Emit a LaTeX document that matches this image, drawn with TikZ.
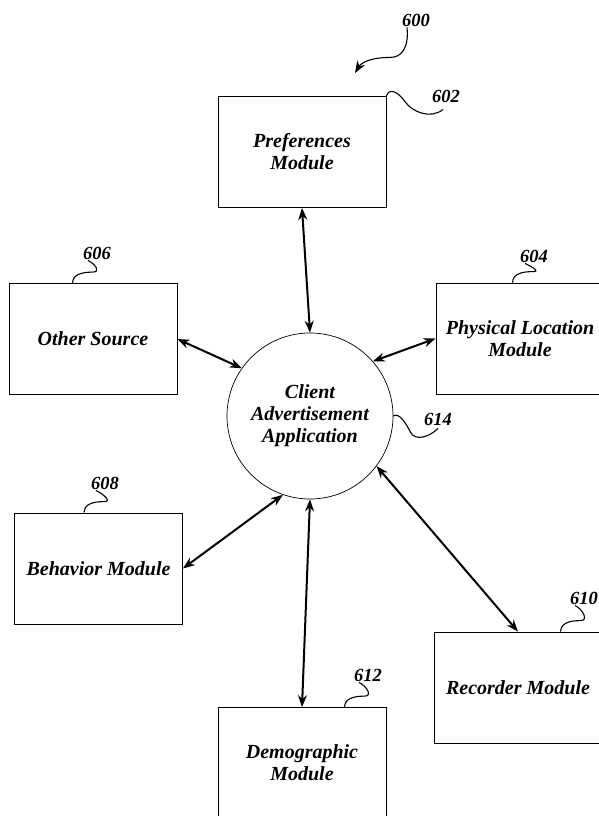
\documentclass[tikz,border=0pt]{standalone}
\usepackage{fontspec}
\setmainfont{Liberation Serif}
\usetikzlibrary{arrows.meta}

\tikzset{
  modulo/.style={draw, line width=0.8pt, minimum width=168pt, minimum height=111pt,
    align=center, font=\bfseries\itshape\fontsize{20}{22}\selectfont},
  centro/.style={draw, circle, line width=0.7pt, minimum size=166pt,
    align=center, font=\bfseries\itshape\fontsize{20}{22}\selectfont},
  flecha/.style={line width=2pt, {Stealth[length=12pt,width=9pt]}-{Stealth[length=12pt,width=9pt]}},
  ref/.style={inner sep=1pt, font=\bfseries\itshape\fontsize{18.5}{20}\selectfont},
  guia/.style={line width=1.1pt},
}

\begin{document}
\begin{tikzpicture}[x=1pt,y=-1pt]
    \useasboundingbox (0,0) rectangle (598,816);

    % Circulo central
    \node[centro] (cl) at (310,416) {Client\\Advertisement\\Application};

    % Modulos
    \node[modulo] (pref) at (302,152) {Preferences\\Module};
    \node[modulo] (oth) at (93,339) {Other Source};
    \node[modulo] (phys) at (520,338.5) {Physical Location\\Module};
    \node[modulo] (beh) at (98.5,568.5) {Behavior Module};
    \node[modulo] (rec) at (518,687.5) {Recorder Module};
    \node[modulo] (dem) at (302,763) {Demographic\\Module};

    % Flechas
    \draw[flecha] (pref.south) -- (cl.north);
    \draw[flecha] (oth.east) -- (cl.145);
    \draw[flecha] (phys.west) -- (cl.41);
    \draw[flecha] (beh.east) -- (cl.251);
    \draw[flecha] (dem.north) -- (cl.south);
    \draw[flecha] (rec.north) -- (cl.323);

    % Referencias
    \node[ref] (n600) at (416,20) {600};
    \node[ref] (n602) at (446,96) {602};
    \node[ref] (n604) at (534,256) {604};
    \node[ref] (n606) at (97,253) {606};
    \node[ref] (n608) at (105,483) {608};
    \node[ref] (n610) at (584,598) {610};
    \node[ref] (n612) at (368,675) {612};
    \node[ref] (n614) at (438,419) {614};
    \coordinate (p600) at (355,73);

    % Lineas de referencia
    \draw[guia, -{Stealth[length=12pt,width=9pt]}] ([xshift=-9pt]n600.south)
        .. controls +(2,20) and +(12,0) .. ++(-17,30)
        .. controls +(-20,0) and +(6,-10) .. (p600);
    \draw[guia] (pref.north east)
        .. controls +(3,-9) and +(-7,-10) .. ++(19,6)
        .. controls +(7,10) and +(-12,10) .. ([xshift=-3pt,yshift=-6pt]n602.south);
    \draw[guia] (cl.east)
        .. controls +(6,-4) and +(-4,-8) .. ++(17,16)
        .. controls +(5,10) and +(-8,8) .. ([yshift=-2pt]n614.south);
    \draw[guia] ([xshift=64pt]oth.north west)
        .. controls +(0,-8) and +(-12,0) .. ++(20,-11)
        .. controls +(8,0) and +(8,4) .. ([xshift=-9pt]n606.south);
    \draw[guia] ([xshift=77pt]phys.north west)
        .. controls +(0,-8) and +(-12,0) .. ++(20,-11)
        .. controls +(8,0) and +(8,4) .. ([xshift=-9pt]n604.south);
    \draw[guia] ([xshift=70pt]beh.north west)
        .. controls +(0,-8) and +(-12,0) .. ++(20,-11)
        .. controls +(8,0) and +(8,4) .. ([xshift=-9pt]n608.south);
    \draw[guia] ([xshift=127pt]rec.north west)
        .. controls +(0,-8) and +(-12,0) .. ++(20,-11)
        .. controls +(8,0) and +(8,4) .. ([xshift=-9pt]n610.south);
    \draw[guia] ([xshift=127pt]dem.north west)
        .. controls +(0,-8) and +(-12,0) .. ++(20,-11)
        .. controls +(8,0) and +(8,4) .. ([xshift=-9pt]n612.south);

\end{tikzpicture}
\end{document}
